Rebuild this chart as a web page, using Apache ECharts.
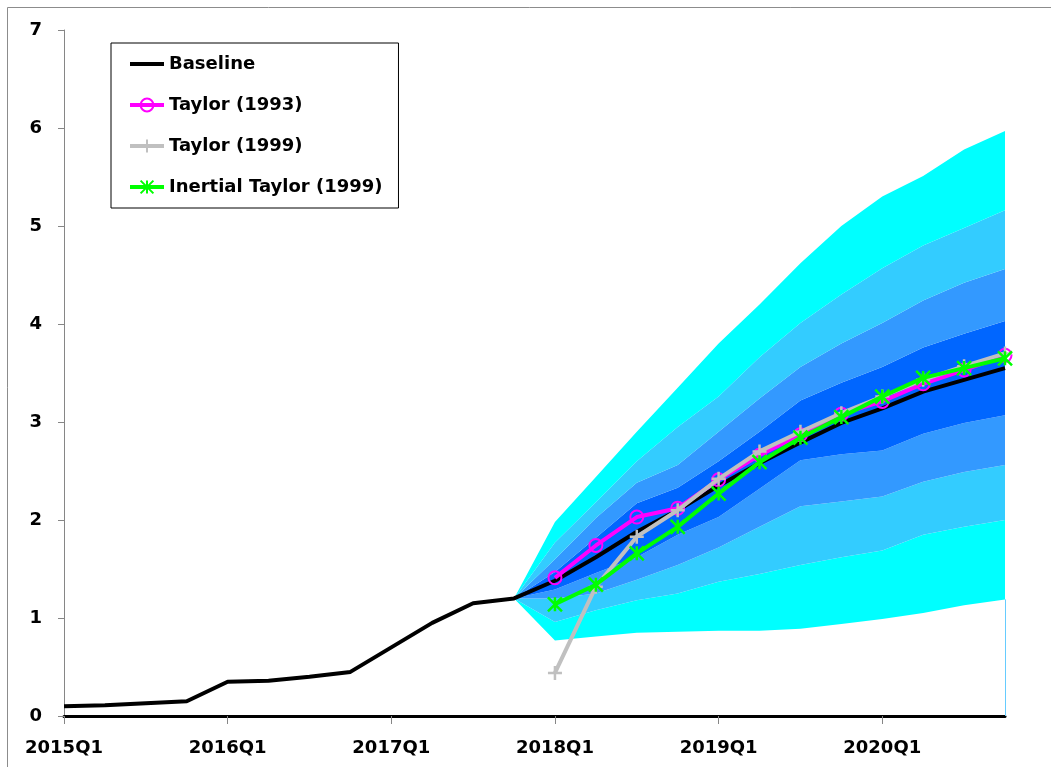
<!DOCTYPE html>
<html>
<head>
<meta charset="utf-8">
<script src="https://cdn.jsdelivr.net/npm/echarts@6/dist/echarts.min.js"></script>
<style>
  html, body { margin: 0; padding: 0; background: #fff; }
  #main { width: 1051px; height: 767px; }
</style>
</head>
<body>
<div id="main"></div>
<script>
// quarterly x axis, 2015Q1 .. 2020Q4
const quarters = [
  '2015Q1', '2015Q2', '2015Q3', '2015Q4',
  '2016Q1', '2016Q2', '2016Q3', '2016Q4',
  '2017Q1', '2017Q2', '2017Q3', '2017Q4',
  '2018Q1', '2018Q2', '2018Q3', '2018Q4',
  '2019Q1', '2019Q2', '2019Q3', '2019Q4',
  '2020Q1', '2020Q2', '2020Q3', '2020Q4'
];

const baseline = [0.10, 0.11, 0.13, 0.15, 0.35, 0.36, 0.40, 0.45, 0.70, 0.95, 1.15, 1.20,
  1.38, 1.62, 1.88, 2.10, 2.35, 2.58, 2.79, 2.99, 3.14, 3.31, 3.43, 3.55];

// rule paths start at 2018Q1
const taylor1993 = [1.41, 1.74, 2.03, 2.12, 2.41, 2.66, 2.87, 3.08, 3.21, 3.39, 3.53, 3.68];
const taylor1999 = [0.44, 1.32, 1.83, 2.10, 2.42, 2.70, 2.90, 3.09, 3.26, 3.43, 3.57, 3.70];
const inertial1999 = [1.14, 1.34, 1.66, 1.93, 2.27, 2.59, 2.84, 3.05, 3.26, 3.45, 3.55, 3.65];

// fan chart bounds, 2017Q4 .. 2020Q4 (from outer top to outer bottom)
const fanUpper90 = [1.20, 1.98, 2.44, 2.90, 3.35, 3.80, 4.20, 4.62, 5.00, 5.30, 5.51, 5.78, 5.97];
const fanUpper70 = [1.20, 1.77, 2.18, 2.60, 2.95, 3.26, 3.66, 4.01, 4.30, 4.57, 4.80, 4.98, 5.16];
const fanUpper50 = [1.20, 1.60, 2.02, 2.38, 2.56, 2.90, 3.24, 3.56, 3.80, 4.01, 4.24, 4.42, 4.56];
const fanUpper30 = [1.20, 1.47, 1.82, 2.17, 2.33, 2.60, 2.90, 3.22, 3.40, 3.56, 3.76, 3.90, 4.03];
const fanLower30 = [1.20, 1.29, 1.46, 1.62, 1.85, 2.03, 2.32, 2.61, 2.67, 2.71, 2.88, 2.99, 3.07];
const fanLower50 = [1.20, 1.20, 1.25, 1.39, 1.54, 1.72, 1.93, 2.14, 2.19, 2.24, 2.39, 2.49, 2.56];
const fanLower70 = [1.20, 0.96, 1.08, 1.18, 1.25, 1.37, 1.45, 1.54, 1.62, 1.69, 1.85, 1.93, 2.00];
const fanLower90 = [1.20, 0.77, 0.81, 0.85, 0.86, 0.87, 0.87, 0.89, 0.94, 0.99, 1.05, 1.13, 1.19];

const yTicks = [0, 1, 2, 3, 4, 5, 6, 7];

const fanStart = quarters.indexOf('2017Q4');
const ruleStart = quarters.indexOf('2018Q1');

function pad(arr, start) {
  const out = [];
  for (let i = 0; i < quarters.length; i++) {
    const j = i - start;
    out.push(j >= 0 && j < arr.length ? arr[j] : '-');
  }
  return out;
}

function diff(a, b) {
  return a.map((v, i) => +(v - b[i]).toFixed(3));
}

const fanLayers = [
  { data: fanLower90, color: 'transparent' },
  { data: diff(fanLower70, fanLower90), color: '#00FFFF' },
  { data: diff(fanLower50, fanLower70), color: '#33CCFF' },
  { data: diff(fanLower30, fanLower50), color: '#3399FF' },
  { data: diff(fanUpper30, fanLower30), color: '#0066FF' },
  { data: diff(fanUpper50, fanUpper30), color: '#3399FF' },
  { data: diff(fanUpper70, fanUpper50), color: '#33CCFF' },
  { data: diff(fanUpper90, fanUpper70), color: '#00FFFF' }
];

const fanSeries = fanLayers.map((l, i) => ({
  name: 'fan' + i,
  type: 'line',
  stack: 'fan',
  silent: true,
  symbol: 'none',
  data: pad(l.data, fanStart),
  lineStyle: { width: 0, opacity: 0 },
  areaStyle: i === 0 ? { opacity: 0 } : { color: l.color, opacity: 1 },
  markLine: i === 0 ? {
    silent: true,
    symbol: 'none',
    label: { show: false },
    lineStyle: { color: '#66CCFF', width: 1, type: 'solid' },
    data: [[{ coord: ['2020Q4', 0] }, { coord: ['2020Q4', fanLower90[fanLower90.length - 1]] }]]
  } : undefined,
  z: 1
}));

const plusPath = 'path://M0,6H12M6,0V12';
const starPath = 'path://M0,0L12,12M12,0L0,12M6,0V12';

const labelFont = { fontFamily: 'DejaVu Sans', fontWeight: 'bold', fontSize: 18, color: '#000' };

const chart = echarts.init(document.getElementById('main'));
chart.setOption({
  animation: false,
  backgroundColor: '#fff',
  graphic: [{
    type: 'rect',
    shape: { x: 7.5, y: 7.5, width: 1100, height: 800 },
    style: { fill: 'none', stroke: '#8c8c8c', lineWidth: 1 },
    silent: true
  }],
  grid: { left: 64, right: 46, top: 30, bottom: 51 },
  legend: {
    orient: 'vertical',
    left: 111,
    top: 43,
    padding: [12, 16, 12, 17],
    itemGap: 23,
    itemWidth: 34,
    itemHeight: 16,
    borderColor: '#000',
    borderWidth: 1,
    backgroundColor: '#fff',
    lineStyle: { width: 4 },
    textStyle: labelFont,
    data: [
      { name: 'Baseline', itemStyle: { opacity: 0 } },
      'Taylor (1993)', 'Taylor (1999)', 'Inertial Taylor (1999)'
    ]
  },
  xAxis: {
    type: 'category',
    data: quarters,
    boundaryGap: false,
    axisLine: { lineStyle: { color: '#000', width: 3 } },
    axisTick: { show: true, interval: 3, length: 8, lineStyle: { color: '#868686' } },
    axisLabel: Object.assign({ interval: 3, margin: 23 }, labelFont),
    splitLine: { show: false }
  },
  yAxis: {
    type: 'value',
    min: yTicks[0],
    max: yTicks[yTicks.length - 1],
    interval: 1,
    axisLine: { show: true, lineStyle: { color: '#868686', width: 1 } },
    axisTick: { show: true, length: 6, lineStyle: { color: '#868686' } },
    axisLabel: Object.assign({ margin: 22 }, labelFont),
    splitLine: { show: false }
  },
  series: fanSeries.concat([
    {
      name: 'Baseline',
      type: 'line',
      data: baseline,
      symbol: 'none',
      lineStyle: { color: '#000', width: 4 },
      itemStyle: { color: '#000' },
      z: 3
    },
    {
      name: 'Taylor (1993)',
      type: 'line',
      data: pad(taylor1993, ruleStart),
      symbol: 'circle',
      symbolSize: 13,
      lineStyle: { color: '#FF00FF', width: 4 },
      itemStyle: { color: 'rgba(0,0,0,0)', borderColor: '#FF00FF', borderWidth: 2 },
      z: 4
    },
    {
      name: 'Taylor (1999)',
      type: 'line',
      data: pad(taylor1999, ruleStart),
      symbol: plusPath,
      symbolSize: 14,
      lineStyle: { color: '#C0C0C0', width: 4 },
      itemStyle: { color: '#C0C0C0', borderColor: '#C0C0C0', borderWidth: 2.5 },
      z: 5
    },
    {
      name: 'Inertial Taylor (1999)',
      type: 'line',
      data: pad(inertial1999, ruleStart),
      symbol: starPath,
      symbolSize: 14,
      lineStyle: { color: '#00FF00', width: 4 },
      itemStyle: { color: '#00FF00', borderColor: '#00FF00', borderWidth: 2.5 },
      z: 6
    }
  ])
});
</script>
</body>
</html>
